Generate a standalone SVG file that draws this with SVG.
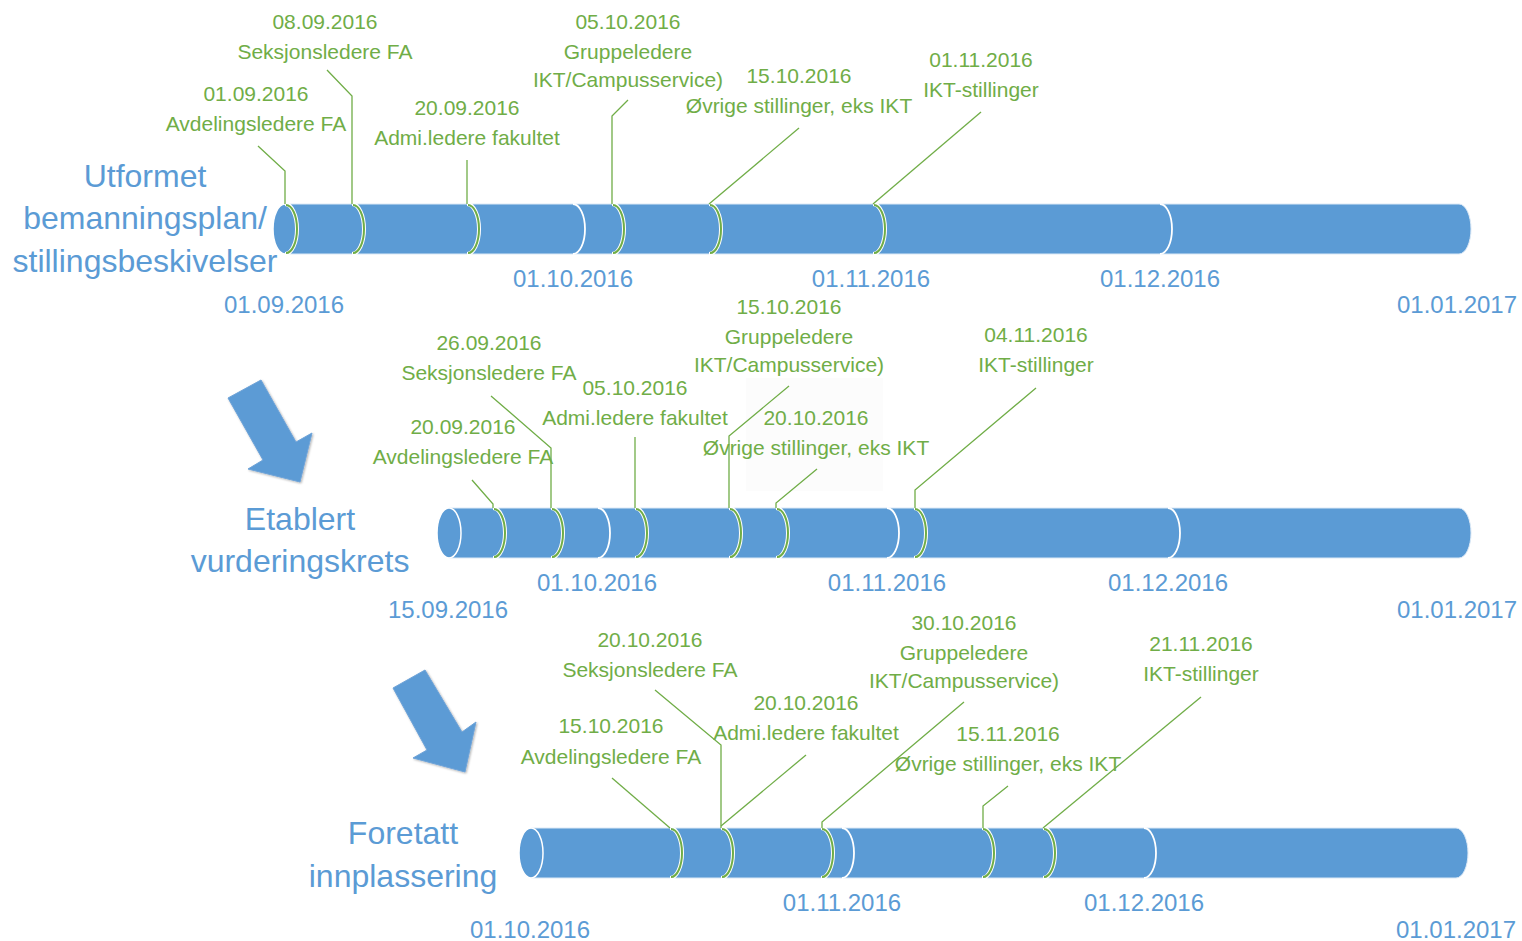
<svg xmlns="http://www.w3.org/2000/svg" width="1522" height="941" viewBox="0 0 1522 941">
<defs>
<style>
.g{font-family:"Liberation Sans",Arial,sans-serif;font-size:21px;fill:#70AD47;text-anchor:middle}
.d{font-family:"Liberation Sans",Arial,sans-serif;font-size:24px;fill:#5B9BD5;text-anchor:middle}
.t{font-family:"Liberation Sans",Arial,sans-serif;font-size:32px;fill:#5B9BD5;text-anchor:middle}
.body{fill:#5B9BD5;stroke:#DCE9F6;stroke-width:1}
.cap{fill:#5B9BD5;stroke:#fff;stroke-width:1.5}
.wa{fill:none;stroke:#fff;stroke-width:1.8}
.ga{fill:none;stroke:#fff;stroke-width:4}
.gg{fill:none;stroke:#70AD47;stroke-width:2}
.ln{fill:none;stroke:#70AD47;stroke-width:1.3}
.arr{fill:#5B9BD5;stroke:#6FA3D8;stroke-width:1;filter:url(#sh)}
</style>
<filter id="sh" x="-20%" y="-20%" width="140%" height="140%"><feDropShadow dx="1" dy="1" stdDeviation="1.2" flood-color="#000" flood-opacity="0.3"/></filter>
</defs>
<rect width="1522" height="941" fill="#fff"/>

<!-- Row 1 -->
<g id="row1">
<path class="body" d="M285 204 H1459 A12 25 0 0 1 1459 254 H285 Z"/>
<ellipse class="cap" cx="285" cy="229" rx="12" ry="25"/>
<path class="wa" d="M573 204 A12 25 0 0 1 573 254"/>
<path class="wa" d="M1160 204 A12 25 0 0 1 1160 254"/>
<path class="ga" d="M285 204 A12 25 0 0 1 285 254"/><path class="gg" d="M286 205 A11 24 0 0 1 286 253"/>
<path class="ga" d="M352 204 A12 25 0 0 1 352 254"/><path class="gg" d="M353 205 A11 24 0 0 1 353 253"/>
<path class="ga" d="M467 204 A12 25 0 0 1 467 254"/><path class="gg" d="M468 205 A11 24 0 0 1 468 253"/>
<path class="ga" d="M612 204 A12 25 0 0 1 612 254"/><path class="gg" d="M613 205 A11 24 0 0 1 613 253"/>
<path class="ga" d="M709 204 A12 25 0 0 1 709 254"/><path class="gg" d="M710 205 A11 24 0 0 1 710 253"/>
<path class="ga" d="M873 204 A12 25 0 0 1 873 254"/><path class="gg" d="M874 205 A11 24 0 0 1 874 253"/>
</g>
<g id="row1-title"><text class="t" x="145" y="187">Utformet</text><text class="t" x="145" y="229">bemanningsplan/</text><text class="t" x="145" y="272">stillingsbeskivelser</text></g>
<g id="row1-dates">
<text class="d" x="284" y="313">01.09.2016</text><text class="d" x="573" y="287">01.10.2016</text><text class="d" x="871" y="287">01.11.2016</text><text class="d" x="1160" y="287">01.12.2016</text><text class="d" x="1457" y="313">01.01.2017</text>
</g>
<g id="r1-m1"><text class="g" x="256" y="101">01.09.2016</text><text class="g" x="256" y="131">Avdelingsledere FA</text></g>
<g id="r1-m2"><text class="g" x="325" y="29">08.09.2016</text><text class="g" x="325" y="59">Seksjonsledere FA</text></g>
<g id="r1-m3"><text class="g" x="467" y="115">20.09.2016</text><text class="g" x="467" y="145">Admi.ledere fakultet</text></g>
<g id="r1-m4"><text class="g" x="628" y="29">05.10.2016</text><text class="g" x="628" y="59">Gruppeledere</text><text class="g" x="628" y="87">IKT/Campusservice)</text></g>
<g id="r1-m5"><text class="g" x="799" y="83">15.10.2016</text><text class="g" x="799" y="113">Øvrige stillinger, eks IKT</text></g>
<g id="r1-m6"><text class="g" x="981" y="67">01.11.2016</text><text class="g" x="981" y="97">IKT-stillinger</text></g>

<!-- Row 2 -->
<rect x="746" y="378" width="137" height="113" fill="#FCFCFC"/>
<g id="row2">
<path class="body" d="M449 508 H1459 A12 25 0 0 1 1459 558 H449 Z"/>
<ellipse class="cap" cx="449" cy="533" rx="12" ry="25"/>
<path class="wa" d="M598 508 A12 25 0 0 1 598 558"/>
<path class="wa" d="M887 508 A12 25 0 0 1 887 558"/>
<path class="wa" d="M1168 508 A12 25 0 0 1 1168 558"/>
<path class="ga" d="M493 508 A12 25 0 0 1 493 558"/><path class="gg" d="M494 509 A11 24 0 0 1 494 557"/>
<path class="ga" d="M551 508 A12 25 0 0 1 551 558"/><path class="gg" d="M552 509 A11 24 0 0 1 552 557"/>
<path class="ga" d="M635 508 A12 25 0 0 1 635 558"/><path class="gg" d="M636 509 A11 24 0 0 1 636 557"/>
<path class="ga" d="M729 508 A12 25 0 0 1 729 558"/><path class="gg" d="M730 509 A11 24 0 0 1 730 557"/>
<path class="ga" d="M776 508 A12 25 0 0 1 776 558"/><path class="gg" d="M777 509 A11 24 0 0 1 777 557"/>
<path class="ga" d="M914 508 A12 25 0 0 1 914 558"/><path class="gg" d="M915 509 A11 24 0 0 1 915 557"/>
</g>
<g id="row2-title"><text class="t" x="300" y="530">Etablert</text><text class="t" x="300" y="572">vurderingskrets</text></g>
<g id="row2-dates">
<text class="d" x="448" y="618">15.09.2016</text><text class="d" x="597" y="591">01.10.2016</text><text class="d" x="887" y="591">01.11.2016</text><text class="d" x="1168" y="591">01.12.2016</text><text class="d" x="1457" y="618">01.01.2017</text>
</g>
<g id="r2-m1"><text class="g" x="463" y="434">20.09.2016</text><text class="g" x="463" y="464">Avdelingsledere FA</text></g>
<g id="r2-m2"><text class="g" x="489" y="350">26.09.2016</text><text class="g" x="489" y="380">Seksjonsledere FA</text></g>
<g id="r2-m3"><text class="g" x="635" y="395">05.10.2016</text><text class="g" x="635" y="425">Admi.ledere fakultet</text></g>
<g id="r2-m4"><text class="g" x="789" y="314">15.10.2016</text><text class="g" x="789" y="344">Gruppeledere</text><text class="g" x="789" y="372">IKT/Campusservice)</text></g>
<g id="r2-m5"><text class="g" x="816" y="425">20.10.2016</text><text class="g" x="816" y="455">Øvrige stillinger, eks IKT</text></g>
<g id="r2-m6"><text class="g" x="1036" y="342">04.11.2016</text><text class="g" x="1036" y="372">IKT-stillinger</text></g>

<!-- Row 3 -->
<g id="row3">
<path class="body" d="M531 828 H1456 A12 25 0 0 1 1456 878 H531 Z"/>
<ellipse class="cap" cx="531" cy="853" rx="12" ry="25"/>
<path class="wa" d="M842 828 A12 25 0 0 1 842 878"/>
<path class="wa" d="M1144 828 A12 25 0 0 1 1144 878"/>
<path class="ga" d="M670 828 A12 25 0 0 1 670 878"/><path class="gg" d="M671 829 A11 24 0 0 1 671 877"/>
<path class="ga" d="M721 828 A12 25 0 0 1 721 878"/><path class="gg" d="M722 829 A11 24 0 0 1 722 877"/>
<path class="ga" d="M821 828 A12 25 0 0 1 821 878"/><path class="gg" d="M822 829 A11 24 0 0 1 822 877"/>
<path class="ga" d="M982 828 A12 25 0 0 1 982 878"/><path class="gg" d="M983 829 A11 24 0 0 1 983 877"/>
<path class="ga" d="M1043 828 A12 25 0 0 1 1043 878"/><path class="gg" d="M1044 829 A11 24 0 0 1 1044 877"/>
</g>
<g id="row3-title"><text class="t" x="403" y="844">Foretatt</text><text class="t" x="403" y="887">innplassering</text></g>
<g id="row3-dates">
<text class="d" x="530" y="938">01.10.2016</text><text class="d" x="842" y="911">01.11.2016</text><text class="d" x="1144" y="911">01.12.2016</text><text class="d" x="1456" y="938">01.01.2017</text>
</g>
<g id="r3-m1"><text class="g" x="611" y="733">15.10.2016</text><text class="g" x="611" y="764">Avdelingsledere FA</text></g>
<g id="r3-m2"><text class="g" x="650" y="647">20.10.2016</text><text class="g" x="650" y="677">Seksjonsledere FA</text></g>
<g id="r3-m3"><text class="g" x="806" y="710">20.10.2016</text><text class="g" x="806" y="740">Admi.ledere fakultet</text></g>
<g id="r3-m4"><text class="g" x="964" y="630">30.10.2016</text><text class="g" x="964" y="660">Gruppeledere</text><text class="g" x="964" y="688">IKT/Campusservice)</text></g>
<g id="r3-m5"><text class="g" x="1008" y="741">15.11.2016</text><text class="g" x="1008" y="771">Øvrige stillinger, eks IKT</text></g>
<g id="r3-m6"><text class="g" x="1201" y="651">21.11.2016</text><text class="g" x="1201" y="681">IKT-stillinger</text></g>

<!-- Arrows -->
<g id="arrow1"><polygon class="arr" points="228,398 261,380 296,442 312,433 300,482 248,469 263,460"/></g>
<g id="arrow2"><polygon class="arr" points="393,688 425,670 462,732 476,722 465,772 413,758 427,750"/></g>

<!-- Connectors -->
<g id="connectors">
<polyline class="ln" points="258,146 285,171 285,204"/>
<polyline class="ln" points="327,70 352,96 352,204"/>
<polyline class="ln" points="467,160 467,204"/>
<polyline class="ln" points="628,100 612,116 612,204"/>
<polyline class="ln" points="799,128 709,204"/>
<polyline class="ln" points="981,112 873,204"/>

<polyline class="ln" points="472,480 493,504 493,508"/>
<polyline class="ln" points="491,396 551,448 551,508"/>
<polyline class="ln" points="635,437 635,508"/>
<polyline class="ln" points="789,386 729,436 729,508"/>
<polyline class="ln" points="817,469 776,503 776,508"/>
<polyline class="ln" points="1036,388 915,490 915,508"/>

<polyline class="ln" points="612,778 670,828"/>
<polyline class="ln" points="655,690 721,745 721,828"/>
<polyline class="ln" points="806,755 721,826"/>
<polyline class="ln" points="964,702 822,822 822,828"/>
<polyline class="ln" points="1008,786 983,806 983,828"/>
<polyline class="ln" points="1201,697 1043,828"/>
</g>
</svg>
